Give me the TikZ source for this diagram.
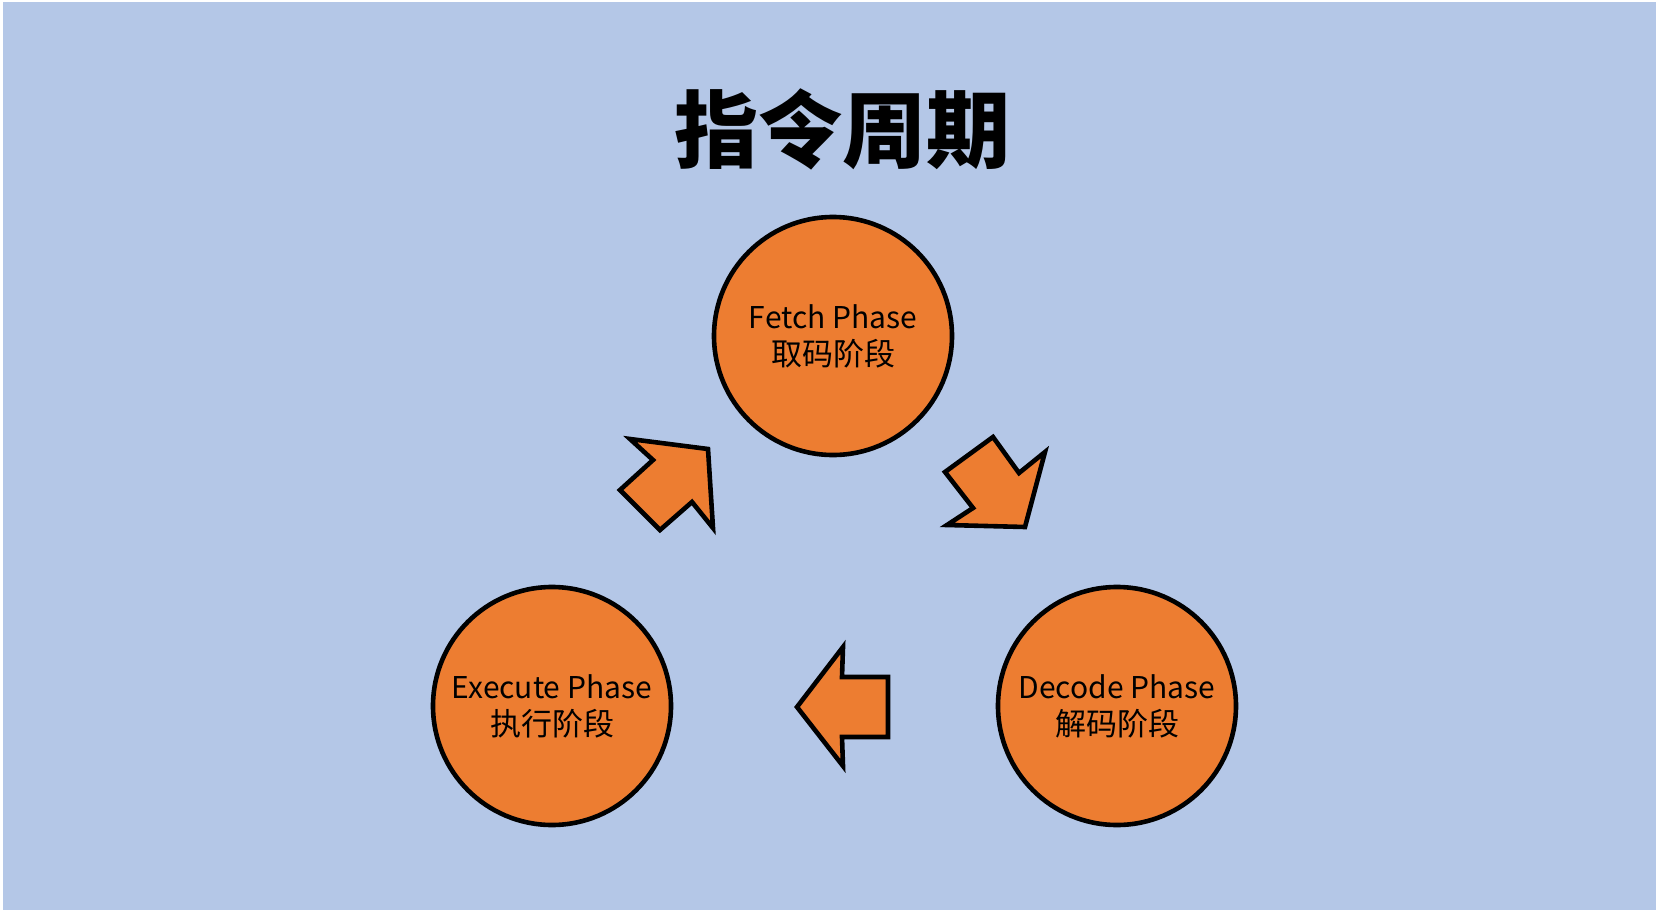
\documentclass[tikz,border=0pt]{standalone}
\usepackage{fontspec}
\setmainfont{Noto Sans CJK SC}
\newfontfamily\cjk{Noto Sans CJK SC}
\definecolor{bgblue}{HTML}{B4C7E7}
\definecolor{phaseorange}{HTML}{ED7D31}
\begin{document}
\begin{tikzpicture}[x=0.5pt,y=-0.5pt,
  phase/.style={circle, draw=black, line width=2.3pt, fill=phaseorange, minimum size=119pt, inner sep=0pt, align=center, font=\fontsize{15}{18.5}\selectfont},
  blockarrow/.style={draw=black, line width=2.3pt, fill=phaseorange, line join=miter},
  titletext/.style={font=\cjk\bfseries\fontsize{42}{50}\selectfont, inner sep=0pt}]
\useasboundingbox (0,0) rectangle (1656,910);
\fill[white] (0,0) rectangle (1656,910);
\fill[bgblue] (3,2) rectangle (1656,910);
\node[titletext] (title) at (842,129) {指令周期};
\node[phase] (fetch) at (833,336) {Fetch Phase\\{\cjk\fontsize{15.5}{18.5}\selectfont 取码阶段}};
\node[phase] (execute) at (552,706) {Execute Phase\\{\cjk\fontsize{15.5}{18.5}\selectfont 执行阶段}};
\node[phase] (decode) at (1117,706) {Decode Phase\\{\cjk\fontsize{15.5}{18.5}\selectfont 解码阶段}};
% Execute -> Fetch
\draw[blockarrow] (630,439) -- (708,449) -- (713,528) -- (692,502) -- (660,530) -- (620,490) -- (653,460) -- cycle;
% Fetch -> Decode
\draw[blockarrow] (993,437) -- (1019,473) -- (1045,452) -- (1025,527) -- (947,525) -- (973,508) -- (945,472) -- cycle;
% Decode -> Execute
\draw[blockarrow] (797,707) -- (843,647) -- (842,677) -- (888,677) -- (888,737) -- (842,737) -- (843,766) -- cycle;
\end{tikzpicture}
\end{document}
